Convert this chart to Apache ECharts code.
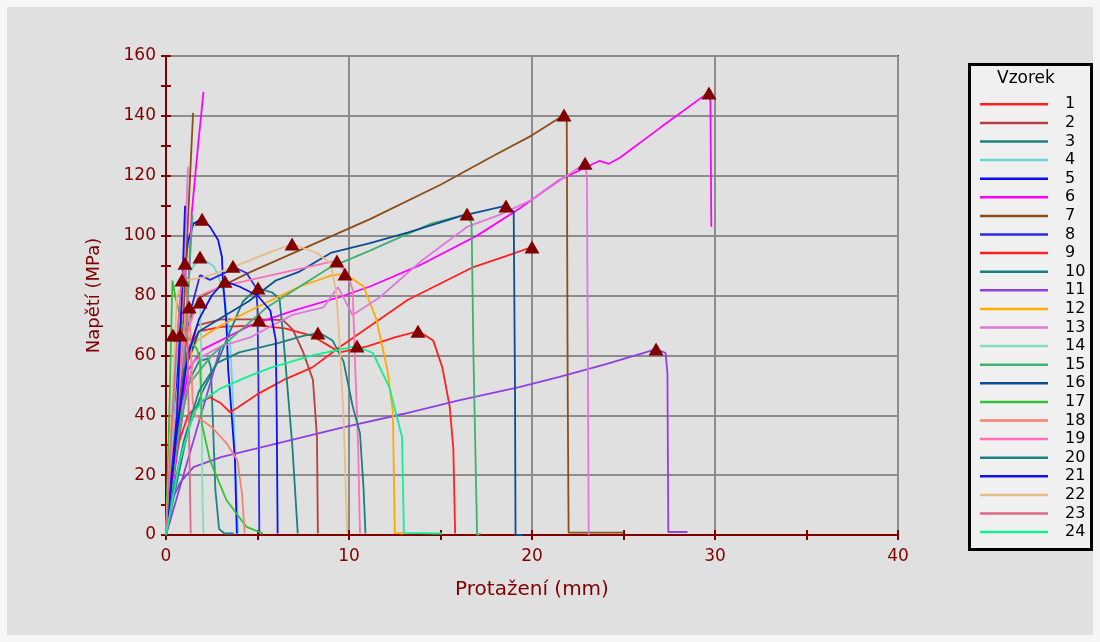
<!DOCTYPE html>
<html>
<head>
<meta charset="utf-8">
<script src="https://cdn.jsdelivr.net/npm/echarts@6/dist/echarts.min.js"></script>
<style>
  html, body { margin: 0; padding: 0; background: #f6f6f6; }
  #bg { position: absolute; left: 7px; top: 7px; width: 1086px; height: 628px; background: #e0e0e0; }
  #chart { position: absolute; left: 0; top: 0; width: 1100px; height: 642px; }
</style>
</head>
<body>
<div id="bg"></div>
<div id="chart"></div>
<script>
// sample names and legend colours
const names = ['1','2','3','4','5','6','7','8','9','10','11','12','13','14','15','16','17','18','19','20','21','22','23','24'];
const colors = ['#ff2020','#b5403f','#1a8585','#66d6d6','#0a0aff','#ff00ff','#8b4e18','#2a2ae6','#ff2020','#178080','#9040e0','#ffaa00',
  '#df78dc','#86dcb8','#40b070','#0d4d90','#35c035','#fa8070','#ff70b8','#1a8080','#1010f0','#e8bc88','#e06888','#10f090'];

const xTicks = [0, 10, 20, 30, 40];
const yTicks = [0, 20, 40, 60, 80, 100, 120, 140, 160];

// [protazeni mm, napeti MPa], '-' breaks the line
const s1 = [[0,0],[0.6,40],[1.2,62],[1.8,68],[3,69.5],[5,70],[6.5,69],[8,66.5],[9.5,61],[11,63],[12.5,66],[13.8,68.1],[14.6,65],[15.1,56],[15.5,43],[15.7,29],[15.8,0.5]];
const s2 = [[0,0],[0.5,35],[1.0,58],[1.7,70],[3,72],[5.1,72],[6.4,71.8],[6.94,68.5],[7.5,61],[8.03,51.8],[8.25,32.7],[8.3,0.5]];
const s3 = [[0,0],[0.4,20],[0.8,38],[1.3,52],[1.8,58],[2.3,59],[2.45,56],[2.55,40],[2.7,15],[2.9,2],[3.2,0.5],[3.7,0.5]];
const s4 = [[0,0],[0.4,40],[0.8,75],[1.3,88],[1.86,92.9],[2.6,89.8],[2.8,87.5],[3.2,80],[3.5,65],[3.7,40],[3.85,15],[3.95,0.5]];
const s5 = [[0,0],[0.5,40],[0.9,80],[1.2,98],[1.5,104],[1.97,105.5],[2.4,103],[2.85,98.5],[3.06,92.8],[3.1,86],[3.3,70.8],[3.4,55],[3.5,47.4],[3.77,25],[3.87,0.5]];
const s6 = [[0,0],[0.9,40],[1.4,107],[1.75,130],[2.05,148],['-','-'],
  [0,0],[0.6,30],[1.2,55],[2,62],[3,65],[4.6,70],[7,75],[9.5,79.5],[11.15,83],[14,90.5],[17,100],[19.3,109],[21.5,118.6],
  [23.7,125],[24.2,124],[24.8,126],[27,136],[29.6,147.6],[29.75,145],[29.8,103]];
const s7 = [[0,0],[0.7,40],[1.2,105],[1.48,141],['-','-'],
  [0,0],[0.6,40],[1.2,70],[1.75,79],[3,83],[4.6,87.8],[8,97],[11.15,105.5],[15,117],[18,127],[20,133.5],[21.75,140.3],
  [21.9,138],[21.95,50],[22,0.8],[25,0.8]];
const s8 = [[0,0],[0.5,35],[1.0,65],[1.5,78.5],[1.86,86.8],[2.4,85.2],[3.3,87.8],[3.7,89.5],[4.4,87.5],[4.9,82.8],[5.0,76],[5.05,52],[5.1,0.5]];
const s9 = [[0,0],[0.3,15],[0.6,29],[1.2,40],[1.95,44.5],[2.4,46],[3.0,44],[3.5,41],[3.9,42.5],[5.1,47.4],[6.5,52],[8.0,56],
  [9.5,62.8],[10.6,67.5],[13.2,78.5],[15,84],[16.8,89.5],[18.5,93],[20,96.2]];
const s10 = [[0,0],[0.5,15],[1.2,35],[2.0,48],[2.8,57.5],[3.5,68],[4.2,78],[5.0,82.5],[5.8,81],[6.2,79],[6.4,67],[6.6,52],[6.9,30],[7.2,0.5]];
const s11 = [[0,0],[3.0,63],['-','-'],
  [0,0],[0.2,10],[0.76,17.4],[1.5,22.7],[3,26],[5.7,30],[9.5,35.7],[13,40.5],[16,45],[19.3,49.4],[21.5,52.8],[24,57],
  [26.8,62.1],[27.3,60.8],[27.4,54],[27.45,1],[28.5,1]];
const s12 = [[0,0],[0.5,30],[1.0,55],[1.7,65],[3,70],[4.6,75],[7.3,83],[9.1,86.8],[9.8,87.2],[10.8,83],[11.5,72],[12.1,55],[12.4,41],[12.5,0.7],[12.95,0.5]];
const s13 = [[0,0],[0.6,40],[1.0,90],[1.2,123],['-','-'],
  [0,0],[0.8,40],[1.5,58],[3,63],[4.6,66],[6.9,73.5],[8.6,76],[9.4,82.8],[10.2,73.5],[11.7,79.5],[14,91.8],[16.45,102.9],
  [18.25,107],[20,112],[22.9,124.2],[23.0,120],[23.05,60],[23.1,0]];
const s14 = [[0,0],[0.4,35],[0.9,65],[1.4,76],[1.86,77.8],[1.9,70],[1.95,40],[2.0,10],[2.05,0.5]];
const s15 = [[0,0],[0.8,40],[1.2,80],[1.45,107],['-','-'],
  [0,0],[0.6,30],[1.2,50],[2.5,60],[4,68],[5.5,76],[6.8,81],[9,89.5],[11.15,95],[12.8,99.5],[14.5,104],[16.45,107.2],
  [16.7,104],[16.8,60],[17,0],[17.2,0.5]];
const s16 = [[0,0],[0.5,30],[1.0,55],[1.8,68],[3,72.5],[4.5,78],[6,85],[7.3,88],[9,94.2],[11.15,97.5],[13.2,101],[16.1,106.5],
  [18.6,110],[19,108],[19.07,50],[19.1,0],[19.5,0]];
const s17 = [[0,0],[0.2,45],[0.35,85],[0.5,80],[0.8,72],[1.2,66],[1.7,62],[1.86,58.5],[1.95,37.4],[2.4,25],[3.3,11.7],[4.4,2.7],[5.3,0.5]];
const s18 = [[0,0],[0.4,30],[0.8,60],[1.1,74],[1.26,76.2],[1.35,65],[1.45,45],[1.6,40],[2.5,36],[3.3,30.7],[3.9,25],[4.15,14],[4.3,0.5]];
const s19 = [[0,0],[0.5,35],[1.0,65],[1.86,80],[3,83],[4.6,85.2],[7,88.5],[9,91.2],[9.3,91.5],[9.9,87],[10.2,82],[10.3,63],[10.5,29],[10.6,0.5]];
const s20 = [[0,0],[0.4,15],[1.0,32],[1.8,48],[2.8,57.5],[4,61],[6.07,64],[7.5,66.5],[8.4,67.5],[9.1,65],[9.7,58],[10.2,43],[10.6,34],[10.8,15],[10.9,0.5]];
const s21 = [[0,0],[0.6,40],[0.9,85],[1.04,110],['-','-'],
  [0,0],[0.6,35],[1.2,60],[1.8,72],[2.5,80],[3.2,84.8],[4,83],[5,80],[5.7,75],[6.0,65],[6.05,40],[6.1,0.5]];
const s22 = [[0,0],[0.3,40],[0.6,80],[1.0,85],[2,86],[3,88],[4.2,90.8],[5.7,94.5],[6.9,97.2],[8.25,94.2],[9,90.8],[9.3,81],[9.5,63],[9.7,40],[9.9,0.7]];
const s23 = [[0,0],[0.3,35],[0.6,65],[0.85,85],[1.04,90.8],[1.15,80],[1.2,55],[1.3,20],[1.35,0.5]];
const s24 = [[0,0],[0.3,10],[0.76,25],[1.5,40.5],[2.0,45],[3,49],[4.5,53],[5.7,55.8],[8,60],[10.4,63.1],[11.3,60.8],[12.2,49.4],[12.9,32.7],[13,0.7],[15.1,0.5]];

const curves = [s1,s2,s3,s4,s5,s6,s7,s8,s9,s10,s11,s12,s13,s14,s15,s16,s17,s18,s19,s20,s21,s22,s23,s24];

// maximum markers
const peakX = [21.75,29.67,22.9,20.0,18.58,16.45,26.78,13.77,10.44,9.78,9.34,8.3,6.89,5.03,5.08,3.66,3.22,1.97,1.86,1.86,1.04,1.26,0.87,0.77,0.38];
const peakY = [140.3,147.6,124.2,96.2,109.9,107.2,62.1,68.1,63.1,87.2,91.5,67.5,97.2,82.5,71.8,89.8,84.8,105.5,92.9,77.8,90.8,76.2,85.2,66.8,66.8];

const dark = '#800000';
const font = 'DejaVu Sans';
const chart = echarts.init(document.getElementById('chart'));

const series = curves.map((data, i) => ({
  name: names[i],
  type: 'line',
  data,
  symbol: 'none',
  connectNulls: false,
  color: colors[i],
  lineStyle: { width: 1.8, color: colors[i] },
  animation: false,
}));
series.push({
  name: 'max',
  type: 'scatter',
  data: peakX.map((x, i) => [x, peakY[i]]),
  symbol: 'triangle',
  symbolSize: [15, 13],
  itemStyle: { color: dark, opacity: 1 },
  z: 5,
  animation: false,
});

const baseAxis = {
  type: 'value',
  axisLine: { show: true, lineStyle: { color: dark, width: 2 } },
  axisTick: { show: true, length: 5, lineStyle: { color: dark, width: 2 } },
  minorTick: { show: true, splitNumber: 2, length: 5, lineStyle: { color: dark, width: 2 } },
  splitLine: { show: true, lineStyle: { color: '#8c8c8c', width: 2 } },
  nameLocation: 'middle',
};
const innerAxis = {
  type: 'value',
  axisLine: { show: false },
  axisTick: { show: true, inside: true, length: 5, lineStyle: { color: dark, width: 2 } },
  minorTick: { show: true, splitNumber: 2, length: 5, lineStyle: { color: dark, width: 2 } },
  axisLabel: { show: false },
  splitLine: { show: false },
};

chart.setOption({
  backgroundColor: 'transparent',
  animation: false,
  grid: {
    left: 166, right: 202, top: 56, bottom: 107,
    show: true, borderColor: dark, borderWidth: 2, backgroundColor: 'transparent',
  },
  legend: {
    data: names,
    orient: 'vertical',
    left: 975,
    top: 90,
    icon: 'rect',
    itemWidth: 68,
    itemHeight: 2.5,
    itemGap: 0,
    formatter: (n) => '{a|' + n + '}',
    textStyle: {
      color: '#000',
      fontSize: 16,
      fontFamily: font,
      lineHeight: 18.6,
      rich: { a: { padding: [0, 0, 0, 12], fontSize: 16, fontFamily: font, lineHeight: 18.6 } },
    },
  },
  graphic: [
    {
      type: 'rect', left: 968, top: 63, z: -1, silent: true,
      shape: { width: 122, height: 485 },
      style: { fill: '#f0f0f0', stroke: '#000', lineWidth: 3 },
    },
    {
      type: 'text', left: 997, top: 70,
      style: { text: 'Vzorek', fill: '#000', font: '17px "DejaVu Sans"' },
    },
  ],
  xAxis: [
    {
      ...baseAxis,
      min: xTicks[0], max: xTicks[xTicks.length - 1], interval: xTicks[1] - xTicks[0],
      name: 'Protažení (mm)', nameGap: 45,
      nameTextStyle: { color: dark, fontSize: 20, fontFamily: font },
      axisLabel: { color: dark, fontSize: 17, fontFamily: font, margin: 13 },
    },
    { ...innerAxis, min: xTicks[0], max: xTicks[xTicks.length - 1], interval: xTicks[1] - xTicks[0], position: 'bottom' },
  ],
  yAxis: [
    {
      ...baseAxis,
      min: yTicks[0], max: yTicks[yTicks.length - 1], interval: yTicks[1] - yTicks[0],
      name: 'Napětí (MPa)', nameGap: 63,
      nameTextStyle: { color: dark, fontSize: 18, fontFamily: font },
      axisLabel: { color: dark, fontSize: 17, fontFamily: font, margin: 10 },
    },
    { ...innerAxis, min: yTicks[0], max: yTicks[yTicks.length - 1], interval: yTicks[1] - yTicks[0], position: 'left' },
  ],
  series,
});
</script>
</body>
</html>
